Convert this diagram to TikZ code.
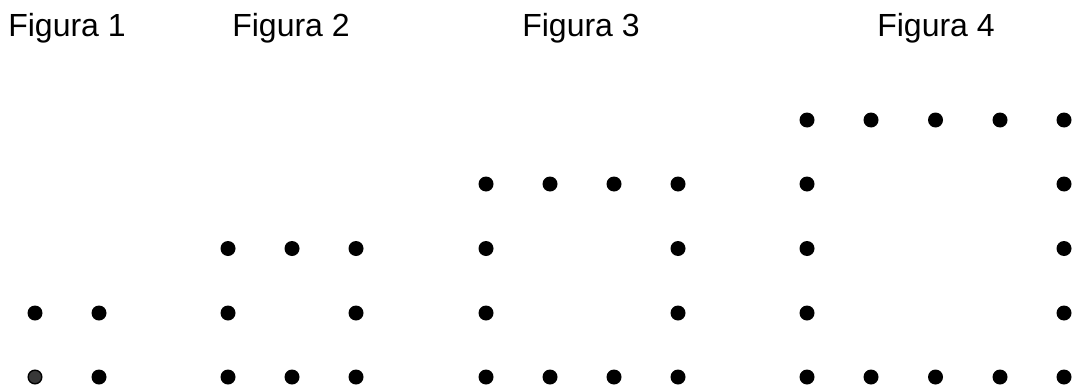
\documentclass[tikz,border=0pt]{standalone}
\usepackage{fontspec}
\setmainfont{Liberation Sans}
\begin{document}
\begin{tikzpicture}[x=1pt,y=-1pt,
  dot/.style={circle,fill=black,inner sep=0pt,minimum size=15pt},
  greydot/.style={circle,fill=black!78,draw=black,line width=1.4pt,inner sep=0pt,minimum size=13.6pt},
  title/.style={anchor=base,inner sep=0pt,font=\fontsize{32}{38}\selectfont}]
\useasboundingbox[fill=white] (0,0) rectangle (1075,388);
% titles
\node[title] (t1) at (67,36.5) {Figura 1};
\node[title] (t2) at (291,36.5) {Figura 2};
\node[title] (t3) at (581,36.5) {Figura 3};
\node[title] (t4) at (936,36.5) {Figura 4};
% row positions
\def\ra{120}\def\rb{184}\def\rc{248.5}\def\rd{313}\def\re{377}
% Figura 1
\node[greydot] (f1a) at (35,\re) {};
\node[dot] (f1b) at (99,\re) {};
\node[dot] (f1c) at (35,\rd) {};
\node[dot] (f1d) at (99,\rd) {};
% Figura 2
\foreach \x/\n in {228/a,292/b,356/c}{
  \node[dot] (f2bot\n) at (\x,\re) {};
  \node[dot] (f2top\n) at (\x,\rc) {};
}
\node[dot] (f2l) at (228,\rd) {};
\node[dot] (f2r) at (356,\rd) {};
% Figura 3
\foreach \x/\n in {486/a,550/b,614/c,678/d}{
  \node[dot] (f3bot\n) at (\x,\re) {};
  \node[dot] (f3top\n) at (\x,\rb) {};
}
\foreach \y/\n in {\rc/a,\rd/b}{
  \node[dot] (f3l\n) at (486,\y) {};
  \node[dot] (f3r\n) at (678,\y) {};
}
% Figura 4
\foreach \x/\n in {807/a,871/b,935.5/c,1000/d,1064/e}{
  \node[dot] (f4bot\n) at (\x,\re) {};
  \node[dot] (f4top\n) at (\x,\ra) {};
}
\foreach \y/\n in {\rb/a,\rc/b,\rd/c}{
  \node[dot] (f4l\n) at (807,\y) {};
  \node[dot] (f4r\n) at (1064,\y) {};
}
\end{tikzpicture}
\end{document}
